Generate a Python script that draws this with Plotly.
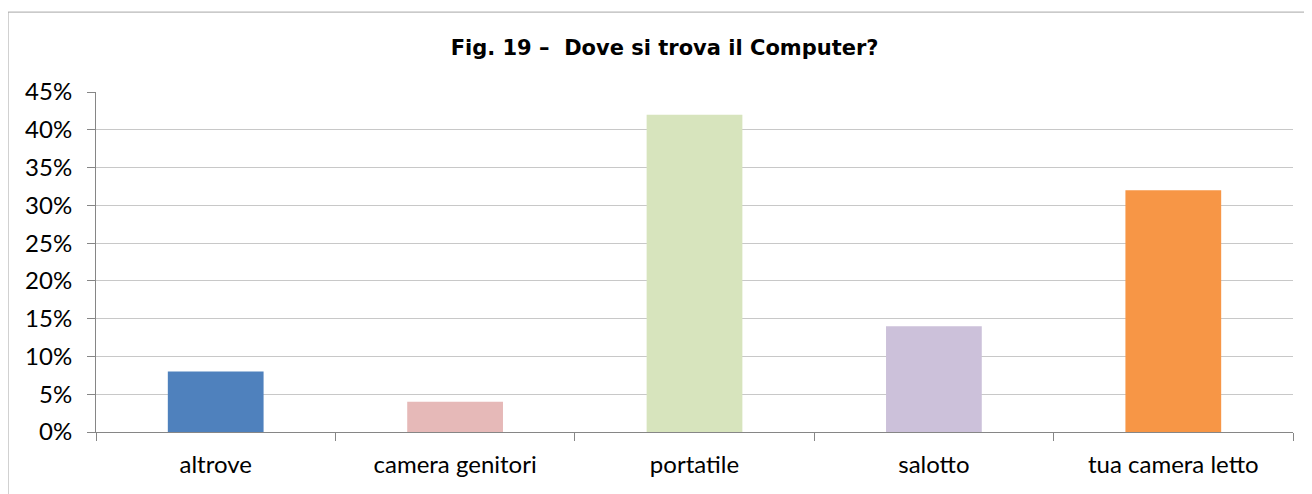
import plotly.graph_objects as go

# data
categories = ["altrove", "camera genitori", "portatile", "salotto", "tua camera letto"]
values = [0.08, 0.04, 0.42, 0.14, 0.32]
colors = ["#4F81BD", "#E6B9B8", "#D7E4BD", "#CCC1DA", "#F79646"]
y_ticks = [0, 0.05, 0.10, 0.15, 0.20, 0.25, 0.30, 0.35, 0.40, 0.45]
y_labels = ["0%", "5%", "10%", "15%", "20%", "25%", "30%", "35%", "40%", "45%"]

fig = go.Figure()
fig.add_trace(go.Bar(
    x=categories,
    y=values,
    marker=dict(color=colors, line=dict(width=0)),
    width=0.4,
    hoverinfo="x+y",
))

# page body adds an 8px margin, so the figure is 8px smaller
fig.update_layout(
    template="none",
    width=1304, height=486,
    margin=dict(l=88, r=19, t=84, b=62, autoexpand=False),
    paper_bgcolor="white",
    plot_bgcolor="white",
    showlegend=False,
    font=dict(family="Lato, Carlito, sans-serif", size=24, color="#000000"),
    title=dict(
        text="<b>Fig. 19 \u2013  Dove si trova il Computer?</b>",
        font=dict(family="DejaVu Sans, Verdana, sans-serif", size=21, color="#000000"),
        x=0.475, xanchor="center", xref="paper",
        y=1 - 40 / 486, yref="container", yanchor="middle",
    ),
    shapes=[dict(
        type="rect", xref="paper", yref="paper",
        x0=-0.0735, x1=1.03, y0=-0.3, y1=1.235,
        line=dict(color="#a6a6a6", width=1), fillcolor="rgba(0,0,0,0)",
        layer="below",
    )],
)

fig.update_xaxes(
    automargin=False,
    showline=True, linecolor="#868686", linewidth=1,
    ticks="outside", ticklen=8, tickcolor="#868686",
    tickson="boundaries",
    showgrid=False,
    tickfont=dict(size=24),
    ticklabelstandoff=11,
)
fig.update_yaxes(
    automargin=False,
    range=[0, 0.45],
    tickvals=y_ticks, ticktext=y_labels,
    showline=True, linecolor="#868686", linewidth=1,
    ticks="outside", ticklen=8, tickcolor="#868686",
    showgrid=True, gridcolor="#c8c8c8", gridwidth=1,
    zeroline=False,
    tickfont=dict(size=24),
    ticklabelstandoff=10,
)

fig.write_html("out.html")
